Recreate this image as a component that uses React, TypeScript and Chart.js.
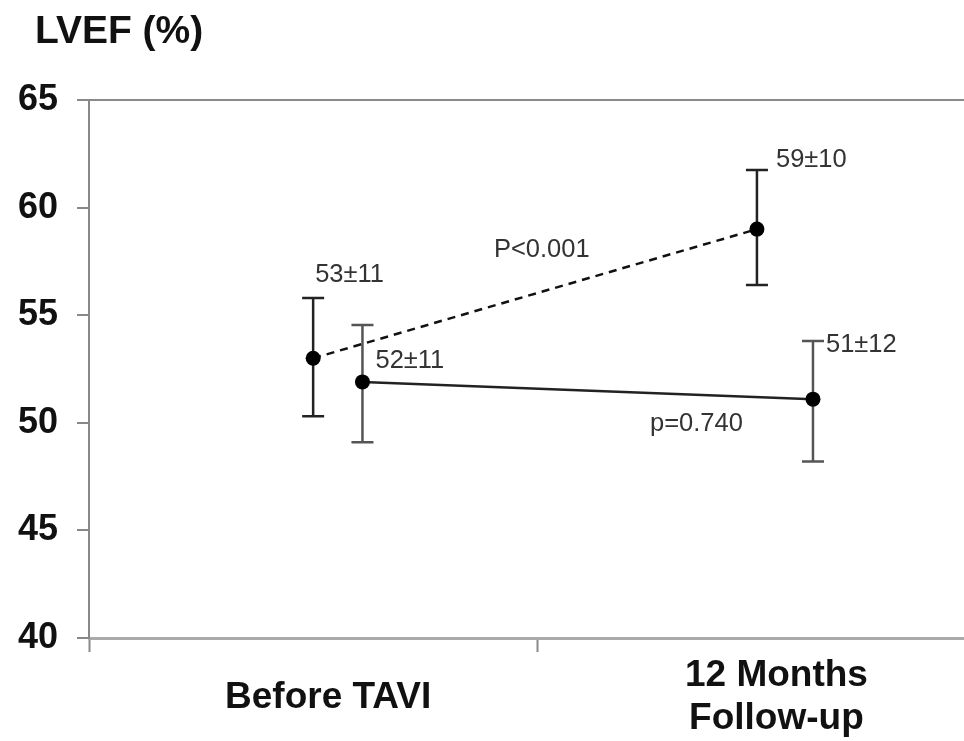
import React, { useEffect, useRef } from 'react';
import { Chart, registerables } from 'chart.js';

Chart.register(...registerables);

// ---- data ----
const titleText = 'LVEF (%)';
const categoryLabels: (string | string[])[] = ['Before TAVI', ['12 Months', 'Follow-up']];
const categoryCenters = [0.5, 1.5];
const categoryBounds = [0, 1, 2];
const xMax = 1.953;
const yMin = 40;
const yMax = 65;
const yStep = 5;

// dashed series (improved group)
const dashedX = [0.5, 1.49];
const dashedMean = [53, 59];
const dashedLow = [50.3, 56.4];
const dashedHigh = [55.8, 61.75];
const dashedLabels = ['53±11', '59±10'];
const dashedP = 'P<0.001';
const dashedPAnchor = [1.01, 57.7];

// solid series
const solidX = [0.61, 1.615];
const solidMean = [51.9, 51.1];
const solidLow = [49.1, 48.2];
const solidHigh = [54.55, 53.8];
const solidLabels = ['52±11', '51±12'];
const solidP = 'p=0.740';
const solidPAnchor = [1.355, 49.6];

const FONT = '"Liberation Sans", Arial, Helvetica, sans-serif';

const annotPlugin = {
  id: 'annot',
  beforeDatasetsDraw(chart: any) {
    const { ctx, scales } = chart;
    const x = scales.x;
    const y = scales.y;
    const bars = (xs: number[], lo: number[], hi: number[], color: string) => {
      ctx.save();
      ctx.strokeStyle = color;
      ctx.lineWidth = 2.5;
      for (let i = 0; i < xs.length; i++) {
        const px = x.getPixelForValue(xs[i]);
        const pl = y.getPixelForValue(lo[i]);
        const ph = y.getPixelForValue(hi[i]);
        ctx.beginPath();
        ctx.moveTo(px, pl);
        ctx.lineTo(px, ph);
        ctx.moveTo(px - 11, pl);
        ctx.lineTo(px + 11, pl);
        ctx.moveTo(px - 11, ph);
        ctx.lineTo(px + 11, ph);
        ctx.stroke();
      }
      ctx.restore();
    };
    bars(dashedX, dashedLow, dashedHigh, '#222');
    bars(solidX, solidLow, solidHigh, '#555');
  },
  afterDraw(chart: any) {
    const { ctx, scales } = chart;
    const x = scales.x;
    const y = scales.y;
    ctx.save();
    ctx.fillStyle = '#111';
    ctx.font = `bold 39px ${FONT}`;
    ctx.textAlign = 'left';
    ctx.textBaseline = 'alphabetic';
    ctx.fillText(titleText, 35, 43);

    ctx.fillStyle = '#333';
    ctx.font = `25.5px ${FONT}`;
    // dashed labels
    {
      const px0 = x.getPixelForValue(dashedX[0]);
      const ph0 = y.getPixelForValue(dashedHigh[0]);
      ctx.fillText(dashedLabels[0], px0 + 2, ph0 - 16);
      const px1 = x.getPixelForValue(dashedX[1]);
      const ph1 = y.getPixelForValue(dashedHigh[1]);
      ctx.fillText(dashedLabels[1], px1 + 19, ph1 - 3);
    }
    // solid labels
    {
      const px0 = x.getPixelForValue(solidX[0]);
      const py0 = y.getPixelForValue(solidMean[0]);
      ctx.fillText(solidLabels[0], px0 + 13, py0 - 14);
      const px1 = x.getPixelForValue(solidX[1]);
      const ph1 = y.getPixelForValue(solidHigh[1]);
      ctx.fillText(solidLabels[1], px1 + 13, ph1 + 11);
    }
    ctx.textAlign = 'center';
    ctx.fillText(dashedP, x.getPixelForValue(dashedPAnchor[0]), y.getPixelForValue(dashedPAnchor[1]));
    ctx.fillText(solidP, x.getPixelForValue(solidPAnchor[0]), y.getPixelForValue(solidPAnchor[1]));
    ctx.restore();
  },
};

export default function App() {
  const ref = useRef<HTMLCanvasElement | null>(null);
  useEffect(() => {
    if (!ref.current) return;
    const chart = new Chart(ref.current, {
      type: 'scatter',
      data: {
        datasets: [
          {
            data: dashedX.map((v, i) => ({ x: v, y: dashedMean[i] })),
            showLine: true,
            borderColor: '#111',
            borderWidth: 2.5,
            borderDash: [8, 6],
            pointRadius: 7.5,
            pointBackgroundColor: '#000',
            pointBorderColor: '#000',
            pointBorderWidth: 0,
          },
          {
            data: solidX.map((v, i) => ({ x: v, y: solidMean[i] })),
            showLine: true,
            borderColor: '#222',
            borderWidth: 2.5,
            pointRadius: 7.5,
            pointBackgroundColor: '#000',
            pointBorderColor: '#000',
            pointBorderWidth: 0,
          },
        ],
      },
      options: {
        responsive: false,
        animation: false,
        devicePixelRatio: 1,
        layout: { padding: { top: 100, left: 0, right: 0, bottom: 0 } },
        plugins: { legend: { display: false }, tooltip: { enabled: false }, title: { display: false } },
        scales: {
          x: {
            type: 'linear',
            min: 0,
            max: xMax,
            afterFit: (s: any) => {
              s.height = 103;
            },
            afterBuildTicks: (s: any) => {
              const vals = [...categoryBounds, ...categoryCenters].filter((v) => v <= xMax).sort((a, b) => a - b);
              s.ticks = vals.map((v) => ({ value: v }));
            },
            border: { display: true, color: '#aaa', width: 3 },
            grid: {
              drawOnChartArea: false,
              tickLength: 14,
              tickWidth: 2,
              color: '#888',
              tickColor: (c: any) => (Number.isInteger(c.tick?.value) ? '#888' : 'rgba(0,0,0,0)'),
            },
            ticks: {
              autoSkip: false,
              maxRotation: 0,
              padding: 24,
              labelOffset: 15,
              crossAlign: 'center',
              color: '#111',
              font: { family: FONT, size: 37, weight: 'bold', lineHeight: 1.16 },
              callback: (v: any) => {
                const i = categoryCenters.indexOf(Number(v));
                return i >= 0 ? categoryLabels[i] : '';
              },
            },
          },
          y: {
            min: yMin,
            max: yMax,
            afterFit: (s: any) => {
              s.width = 89;
            },
            border: { display: true, color: '#888', width: 2 },
            grid: {
              lineWidth: 2,
              tickLength: 12,
              tickWidth: 2,
              color: (c: any) => (c.tick?.value === yMax ? '#8a8a8a' : 'rgba(0,0,0,0)'),
              tickColor: '#888',
            },
            ticks: {
              stepSize: yStep,
              padding: 19,
              color: '#111',
              font: { family: FONT, size: 36, weight: 'bold' },
            },
          },
        },
      } as any,
      plugins: [annotPlugin],
    });
    return () => chart.destroy();
  }, []);
  return (
    <div style={{ position: 'fixed', left: 0, top: 0, width: 964, height: 741, background: '#fff', overflow: 'hidden' }}>
      <canvas ref={ref} width={972} height={741} style={{ display: 'block' }} />
    </div>
  );
}
